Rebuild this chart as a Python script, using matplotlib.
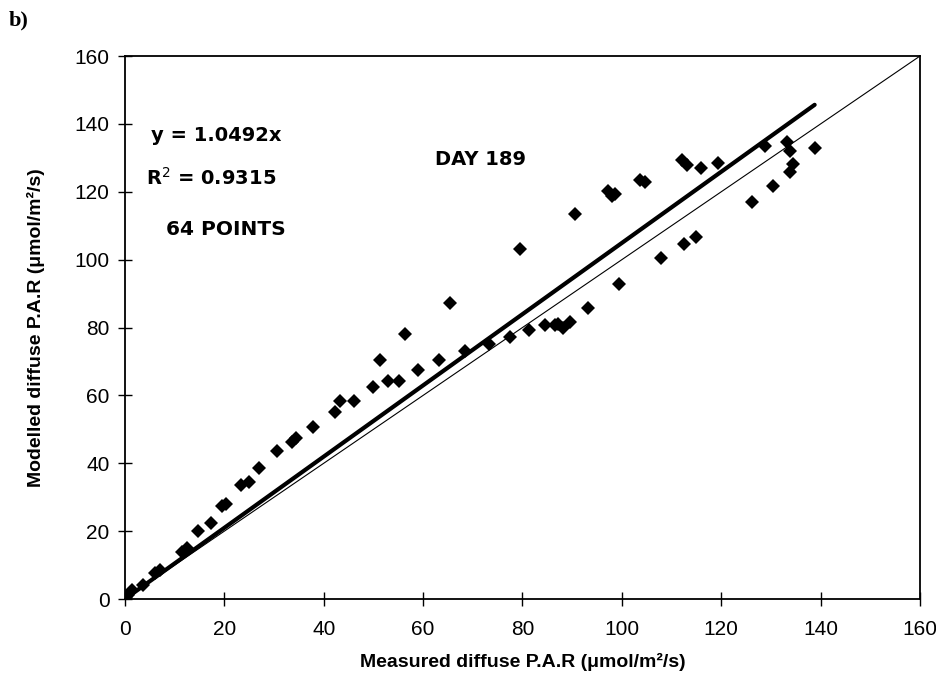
import numpy as np
import matplotlib
matplotlib.use("Agg")
import matplotlib.pyplot as plt

# measured vs modelled diffuse PAR, day 189
measured = [0.0, 0.3, 0.7, 1.5, 3.7, 6.0, 7.1, 11.4, 12.4, 14.7, 17.3, 19.6, 20.4,
            23.3, 25.0, 27.0, 30.6, 33.7, 34.4, 37.8, 42.3, 43.2, 46.0, 49.9, 51.3,
            53.0, 55.1, 56.4, 59.0, 63.3, 65.4, 68.5, 73.3, 77.4, 79.6, 81.4, 84.5,
            86.5, 87.1, 88.1, 89.5, 90.6, 93.2, 99.4, 97.2, 98.1, 98.7, 103.6, 104.6,
            107.8, 112.5, 114.9, 112.2, 113.2, 116.0, 119.4, 126.1, 128.9, 130.5,
            133.8, 134.5, 133.2, 133.8, 138.8]
modelled = [0.0, 0.6, 1.2, 2.8, 4.0, 7.6, 8.7, 13.9, 14.9, 20.0, 22.4, 27.3, 27.9,
            33.5, 34.6, 38.7, 43.7, 46.2, 47.5, 50.6, 55.0, 58.4, 58.4, 62.5, 70.4,
            64.3, 64.3, 78.0, 67.4, 70.4, 87.3, 73.1, 75.1, 77.2, 103.0, 79.2, 80.7,
            80.8, 81.1, 79.9, 81.7, 113.4, 85.8, 92.7, 120.1, 118.9, 119.3, 123.5,
            123.0, 100.5, 104.6, 106.6, 129.4, 127.9, 127.1, 128.4, 116.9, 133.6,
            121.8, 125.7, 128.1, 134.8, 132.0, 132.8]
slope = 1.0492
r2 = 0.9315
ticks = [0, 20, 40, 60, 80, 100, 120, 140, 160]

fig = plt.figure(figsize=(9.36, 6.85), dpi=100)
ax = fig.add_axes([0.1335, 0.1255, 0.8494, 0.7927])

x = np.array(measured)
y = np.array(modelled)

# 1:1 line and fitted line through origin
ax.plot([0, 160], [0, 160], color="black", lw=0.8)
xfit = np.array([0, x.max()])
ax.plot(xfit, slope * xfit, color="black", lw=3, solid_capstyle="round")
ax.plot(x, y, "D", color="black", ms=7.5, mew=0)

ax.set_xlim(0, 160)
ax.set_ylim(0, 160)
ax.set_xticks(ticks)
ax.set_yticks(ticks)
ax.tick_params(direction="inout", length=10, width=1, labelsize=15, pad=6)
ax.tick_params(axis="x", pad=10)
for lab in ax.get_xticklabels() + ax.get_yticklabels():
    lab.set_family(["Liberation Sans Narrow", "Liberation Sans"])
for s in ax.spines.values():
    s.set_linewidth(1.3)

ax.set_xlabel("Measured diffuse P.A.R (\u03bcmol/m\u00b2/s)", fontsize=14,
              fontweight="bold", family="Liberation Sans")
ax.set_ylabel("Modelled diffuse P.A.R (\u03bcmol/m\u00b2/s)", fontsize=14,
              fontweight="bold", family="Liberation Sans")
ax.xaxis.set_label_coords(0.5, -0.1)
ax.yaxis.set_label_coords(-0.1, 0.5)

ax.text(18.4, 136.5, "y = %.4fx" % slope, ha="center", va="center",
        fontsize=14, fontweight="bold")
ax.text(17.3, 124.2, "R$^2$ = %.4f" % r2, ha="center", va="center",
        fontsize=14, fontweight="bold")
ax.text(20.4, 108.9, "%d POINTS" % len(measured), ha="center", va="center",
        fontsize=14.5, fontweight="bold")
ax.text(71.5, 129.5, "DAY 189", ha="center", va="center", fontsize=14,
        fontweight="bold")

fig.text(0.009, 0.985, "b)", ha="left", va="top", fontsize=16,
         fontweight="bold", family="Liberation Serif")

fig.savefig("out.png", dpi=100)
